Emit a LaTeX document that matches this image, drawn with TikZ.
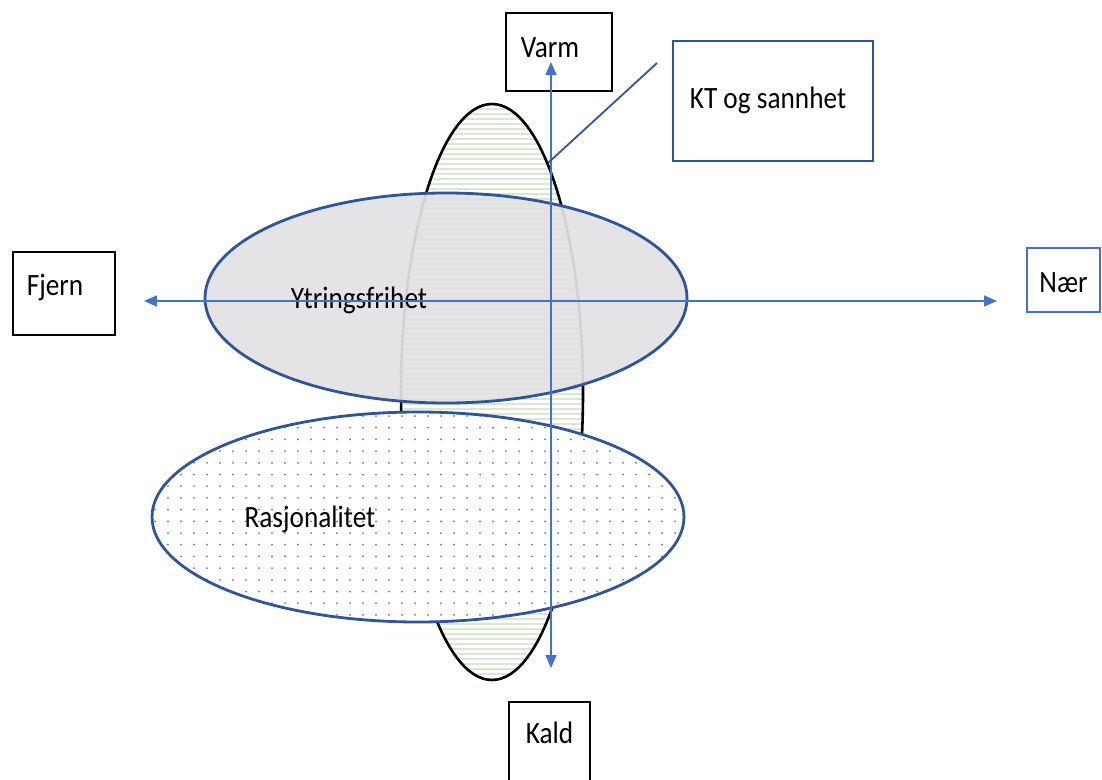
\documentclass[tikz,border=0pt]{standalone}
\usepackage{fontspec}
\setmainfont{Carlito}[FakeStretch=0.88]
\usetikzlibrary{shapes.geometric,arrows.meta}
\definecolor{axisblue}{HTML}{4472C4}
\definecolor{darkblue}{HTML}{2F5597}
\definecolor{stripegreen}{HTML}{DAE8D2}
\definecolor{fillgrey}{HTML}{E2E1E4}
\definecolor{dotblue}{HTML}{5A78C0}
\tikzset{
  bigell/.style={ellipse, draw=darkblue, line width=2.8pt, inner sep=0pt},
  axisline/.style={draw=axisblue, line width=1.6pt, {Triangle[length=13pt,width=11pt]}-{Triangle[length=13pt,width=11pt]}},
  boxnode/.style={draw, line width=1.8pt, inner sep=0pt, text height=20pt, text depth=0pt},
  lbl/.style={inner sep=0pt, anchor=base},
}
\begin{document}
\begin{tikzpicture}[x=1pt,y=-1pt,font=\fontsize{31}{37}\selectfont]
\useasboundingbox (0,0) rectangle (1102,779);
\fill[white] (0,0) rectangle (1102,779);

% tall striped ellipse (KT og sannhet)
\node (tall) [ellipse, draw=black, line width=2.6pt, inner sep=0pt,
  minimum width=182pt, minimum height=576pt,
  path picture={
    \foreach \i in {0,...,118}
      \draw[stripegreen, line width=2.6pt]
        ([yshift=-\i*5pt]path picture bounding box.north west) -- ++(200,0);
  }] at (492,392) {};

% Ytringsfrihet ellipse
\node (ytr) [bigell, fill=fillgrey, fill opacity=0.93,
  minimum width=482pt, minimum height=210pt] at (446,298) {};

% Rasjonalitet ellipse
\node (ras) [bigell, fill=white,
  minimum width=532pt, minimum height=210pt,
  path picture={
    \foreach \r in {0,...,19}
      \foreach \c in {0,...,42}
        \fill[dotblue] ([xshift=\c*13pt+3pt, yshift=-\r*11.7pt-4pt]path picture bounding box.north west) circle (1pt);
  }] at (418,517) {};

\node (ytrtxt) [lbl] at (359,308) {Ytringsfrihet};
\node (rastxt) [lbl] at (310,527) {Rasjonalitet};

% boxes
\node (varm) [boxnode, text depth=10pt, minimum width=106pt, minimum height=78pt] at (559,52) {Varm\hspace*{18pt}};
\node (kt) [boxnode, draw=darkblue, text depth=6pt, minimum width=200pt, minimum height=120pt] at (773,101) {KT og sannhet\hspace*{10pt}};
\node (fjern) [boxnode, text depth=17pt, minimum width=102pt, minimum height=83pt] at (64,293.5) {Fjern\hspace*{18pt}};
\node (naer) [boxnode, draw=axisblue, text height=24pt, minimum width=73pt, minimum height=64pt] at (1063.5,280) {Nær};
\node (kald) [boxnode, text depth=18pt, minimum width=81pt, minimum height=80pt] at (549.5,742) {Kald};

% axes
\coordinate (vtop) at (551,62);
\coordinate (vbot) at (551,668);
\coordinate (hleft) at (144,301);
\coordinate (hright) at (997,301);
\draw[axisline] (vbot) -- (vtop);
\draw[axisline] (hleft) -- (hright);

% callout line
\coordinate (callA) at (657,63);
\coordinate (callB) at (548,163);
\draw[darkblue, line width=1.8pt] (callA) -- (callB);
\end{tikzpicture}
\end{document}
